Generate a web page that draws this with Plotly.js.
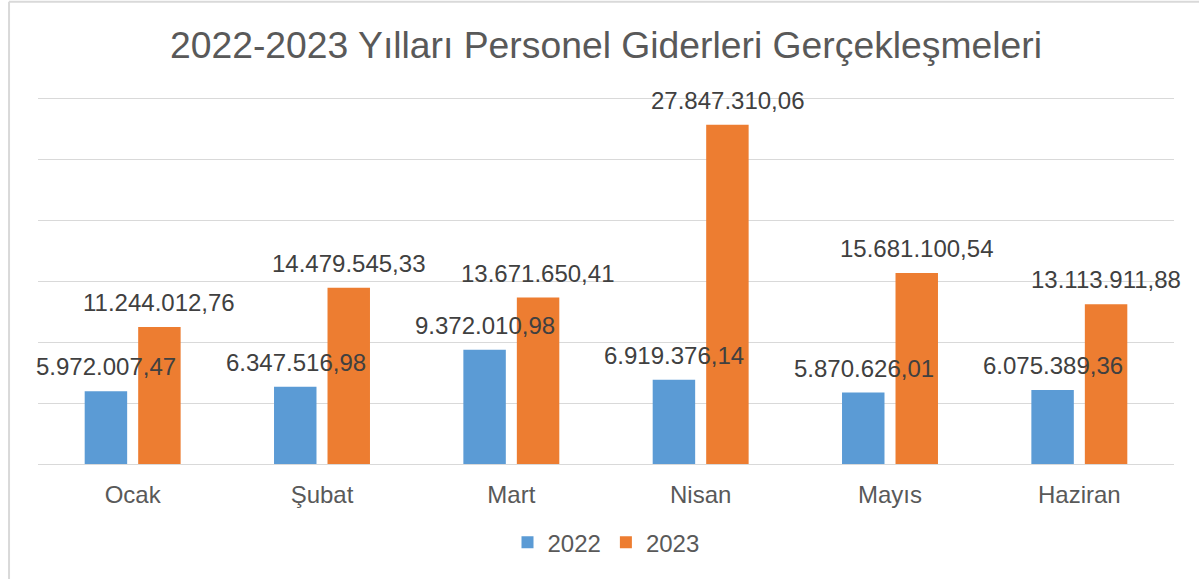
<!DOCTYPE html>
<html>
<head>
<meta charset="utf-8">
<script src="https://cdn.plot.ly/plotly-3.0.1.min.js"></script>
<style>html,body{margin:0;padding:0;background:#fff;}#chart{width:1199px;height:579px;}</style>
</head>
<body>
<div id="chart"></div>
<script>
const months = ['Ocak', 'Şubat', 'Mart', 'Nisan', 'Mayıs', 'Haziran'];
const seriesNames = ['2022', '2023'];
const values2022 = [5972007.47, 6347516.98, 9372010.98, 6919376.14, 5870626.01, 6075389.36];
const values2023 = [11244012.76, 14479545.33, 13671650.41, 27847310.06, 15681100.54, 13113911.88];

function fmtTR(v) {
  const parts = v.toFixed(2).split('.');
  const intPart = parts[0].replace(/\B(?=(\d{3})+(?!\d))/g, '.');
  return intPart + ',' + parts[1];
}

const FONT = '"Liberation Sans", Arial, sans-serif';
const colors = ['#5B9BD5', '#ED7D31'];
const allSeries = [values2022, values2023];

const traces = allSeries.map((vals, i) => ({
  type: 'bar',
  name: seriesNames[i],
  x: months,
  y: vals,
  marker: {color: colors[i]},
  hoverinfo: 'x+y+name'
}));

const offsets = [-26.5, 26.5];
const annotations = [];
allSeries.forEach((vals, i) => {
  vals.forEach((v, j) => {
    annotations.push({
      x: months[j], y: v, xref: 'x', yref: 'y',
      text: fmtTR(v), showarrow: false,
      xanchor: 'center', yanchor: 'bottom',
      xshift: offsets[i], yshift: 9,
      font: {family: FONT, size: 24, color: '#404040'}
    });
  });
});

const layout = {
  width: 1199, height: 579,
  margin: {l: 38, r: 25, t: 95, b: 115},
  paper_bgcolor: '#ffffff', plot_bgcolor: '#ffffff',
  font: {family: FONT, color: '#595959'},
  title: {
    text: '2022-2023 Yılları Personel Giderleri Gerçekleşmeleri',
    font: {family: FONT, size: 37.3, color: '#595959'},
    x: 0.5, xref: 'paper', xanchor: 'center',
    y: 0.923, yref: 'container', yanchor: 'middle'
  },
  barmode: 'group',
  bargap: 0.435,
  bargroupgap: 0.206,
  xaxis: {
    type: 'category', range: [-0.5, 5.5], autorange: false, automargin: false,
    showgrid: false, showline: true, linecolor: '#d9d9d9', linewidth: 1,
    ticks: '', ticklabelstandoff: 9,
    tickfont: {family: FONT, size: 24, color: '#595959'},
    fixedrange: true
  },
  yaxis: {
    range: [0, 30300000], autorange: false, automargin: false,
    tick0: 0, dtick: 5000000,
    showgrid: true, gridcolor: '#d9d9d9', gridwidth: 1,
    zeroline: false, showticklabels: false, ticks: '',
    fixedrange: true
  },
  showlegend: true,
  legend: {
    orientation: 'h', x: 0.5, xanchor: 'center',
    y: -0.213, yanchor: 'middle',
    font: {family: FONT, size: 24, color: '#595959'},
    itemwidth: 30, traceorder: 'normal'
  },
  shapes: [
    {type: 'line', xref: 'paper', yref: 'paper', x0: -0.0255, x1: 1.1, y0: 1.253, y1: 1.253, line: {color: '#d9d9d9', width: 2}},
    {type: 'line', xref: 'paper', yref: 'paper', x0: -0.0255, x1: -0.0255, y0: 1.253, y1: -0.4, line: {color: '#d9d9d9', width: 2}}
  ],
  annotations: annotations
};

Plotly.newPlot('chart', traces, layout, {displayModeBar: false});
</script>
</body>
</html>
